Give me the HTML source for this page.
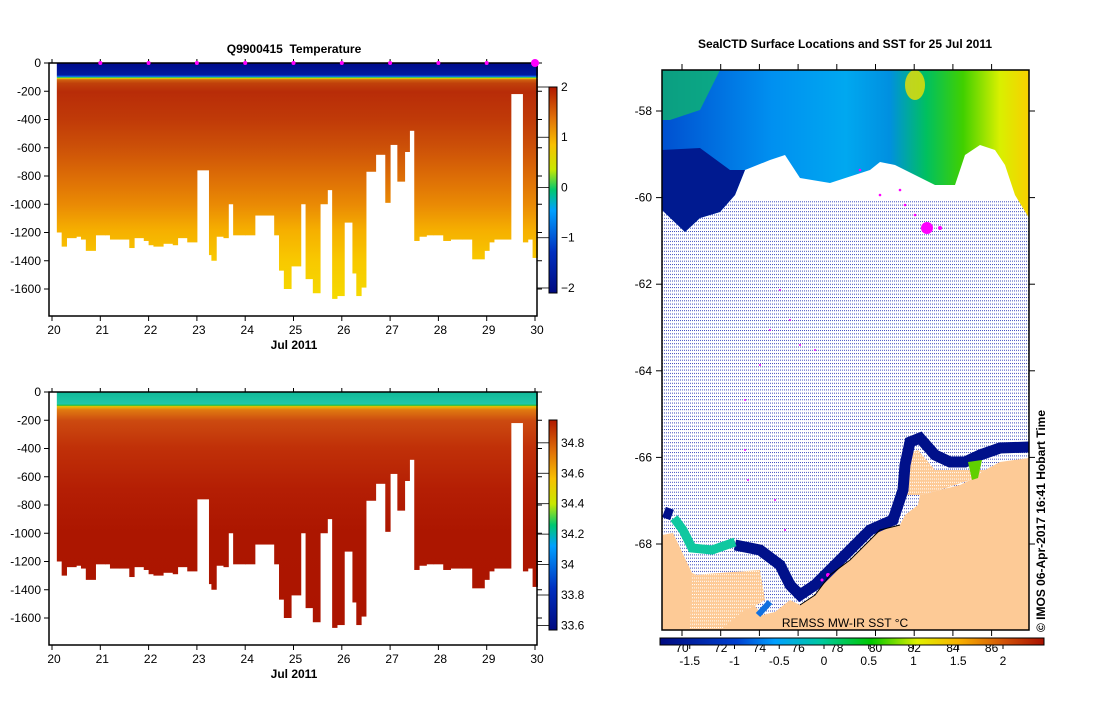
<!DOCTYPE html>
<html><head><meta charset="utf-8">
<style>
body{margin:0;background:#fff;width:1099px;height:700px;overflow:hidden;font-family:"Liberation Sans",sans-serif}
svg text{font-family:"Liberation Sans",sans-serif;font-size:12px;fill:#000}
</style></head>
<body>
<svg id="s" width="1099" height="700" xmlns="http://www.w3.org/2000/svg">
<defs>
<linearGradient id="tg" gradientUnits="userSpaceOnUse" x1="0" y1="63" x2="0" y2="303">
<stop offset="0" stop-color="#000a8a"/><stop offset="0.05" stop-color="#001aa0"/><stop offset="0.056" stop-color="#1060ff"/><stop offset="0.06" stop-color="#20d060"/><stop offset="0.064" stop-color="#e8d000"/><stop offset="0.07" stop-color="#d06010"/><stop offset="0.085" stop-color="#c0400a"/><stop offset="0.12" stop-color="#b82c08"/><stop offset="0.235" stop-color="#c03a08"/><stop offset="0.35" stop-color="#cc5008"/><stop offset="0.47" stop-color="#dc6c06"/><stop offset="0.59" stop-color="#ea8a04"/><stop offset="0.7" stop-color="#f6b000"/><stop offset="0.82" stop-color="#f8c800"/><stop offset="1" stop-color="#f5dc00"/>
</linearGradient>
<linearGradient id="sg" gradientUnits="userSpaceOnUse" x1="0" y1="392" x2="0" y2="631">
<stop offset="0" stop-color="#10b898"/><stop offset="0.05" stop-color="#20c8a8"/><stop offset="0.056" stop-color="#20c040"/><stop offset="0.06" stop-color="#e8c000"/><stop offset="0.075" stop-color="#e07a10"/><stop offset="0.12" stop-color="#cc4a10"/><stop offset="0.235" stop-color="#c03008"/><stop offset="0.41" stop-color="#b41e04"/><stop offset="0.59" stop-color="#ac1600"/><stop offset="1" stop-color="#ac1400"/>
</linearGradient>
<linearGradient id="tcb" x1="0" y1="1" x2="0" y2="0">
<stop offset="0" stop-color="#000a80"/><stop offset="0.2" stop-color="#0030c0"/><stop offset="0.4" stop-color="#00a0ff"/><stop offset="0.5" stop-color="#00c870"/><stop offset="0.6" stop-color="#c8e800"/><stop offset="0.72" stop-color="#f8c000"/><stop offset="0.85" stop-color="#e07008"/><stop offset="1" stop-color="#b01800"/>
</linearGradient>
<linearGradient id="hcb" x1="0" y1="0" x2="1" y2="0">
<stop offset="0" stop-color="#000a80"/><stop offset="0.2" stop-color="#0040d0"/><stop offset="0.3" stop-color="#00a0ff"/><stop offset="0.42" stop-color="#00c8a0"/><stop offset="0.55" stop-color="#00c800"/><stop offset="0.67" stop-color="#e0f000"/><stop offset="0.78" stop-color="#f8b000"/><stop offset="0.9" stop-color="#d05008"/><stop offset="1" stop-color="#a81000"/>
</linearGradient>
<linearGradient id="sst" x1="0" y1="0" x2="1" y2="0">
<stop offset="0" stop-color="#0050d0"/><stop offset="0.3" stop-color="#0090f0"/><stop offset="0.5" stop-color="#00a8f0"/><stop offset="0.62" stop-color="#0090e0"/><stop offset="0.72" stop-color="#00c060"/><stop offset="0.82" stop-color="#40d000"/><stop offset="0.92" stop-color="#d8f000"/><stop offset="1" stop-color="#f8d000"/>
</linearGradient>
<pattern id="dots" width="2" height="3.3" patternUnits="userSpaceOnUse"><rect width="1" height="1" fill="#2838b8"/></pattern>
<pattern id="wdots" width="2" height="3.3" patternUnits="userSpaceOnUse"><rect width="2" height="3.3" fill="#fdca96"/><rect width="1" height="1" fill="#fff"/></pattern>
</defs>
<g id="charts"></g>
<g id="map">
<rect x="662" y="70" width="367" height="560" fill="#fff"/>
<rect x="662" y="200" width="367" height="430" fill="url(#dots)" opacity="0.9"/>
<polygon fill="url(#sst)" points="662,70 1029,70 1029,218 1015,195 1005,165 995,150 980,145 965,155 955,185 935,185 895,165 880,162 870,170 830,183 800,178 785,155 770,160 745,170 735,195 720,212 700,218 685,232 662,210"/>
<polygon fill="#001a90" points="662,150 700,148 730,170 745,170 735,195 720,212 700,218 685,232 662,210"/>
<polygon fill="#10c060" opacity="0.7" points="662,70 720,70 700,110 670,120 662,120"/>
<ellipse cx="915" cy="85" rx="10" ry="15" fill="#f0e000" opacity="0.8"/>
<polygon fill="#fdca96" points="662,535 673,533 692,573 760,600 755,606 762,615 775,612 790,600 800,605 815,595 830,575 850,560 865,545 880,530 900,525 905,515 918,505 920,495 940,490 960,485 970,480 985,470 1000,462 1029,458 1029,630 662,630"/>
<polygon fill="url(#wdots)" points="692,575 760,570 765,600 755,606 745,610 720,630 690,630"/>
<polygon fill="url(#wdots)" points="905,455 918,450 935,470 960,470 985,470 970,480 940,490 920,495 905,495"/>
<polyline fill="none" stroke="#00108a" stroke-width="11" points="735,545 760,550 780,565 790,585 800,595 815,585 830,570 850,550 870,530 893,520 898,505 903,490 905,465 910,442 920,438 935,455 950,462 965,462 980,455 1000,448 1029,447"/>
<polyline fill="none" stroke="#00108a" stroke-width="11" points="664,512 672,515"/>
<polyline fill="none" stroke="#10c8a0" stroke-width="9" points="674,518 683,530 692,548 712,550 735,542"/>
<polygon fill="#60d000" points="968,462 982,460 978,478 972,480"/>
<polyline fill="none" stroke="#1070e0" stroke-width="6" points="758,615 770,602"/>
<g fill="#ff00ff">
<circle cx="927" cy="228" r="6"/><circle cx="940" cy="228" r="2"/><circle cx="900" cy="190" r="1.3"/><circle cx="905" cy="205" r="1.3"/><circle cx="915" cy="215" r="1.3"/><circle cx="860" cy="170" r="1.3"/><circle cx="880" cy="195" r="1.3"/>
<circle cx="780" cy="290" r="1"/><circle cx="790" cy="320" r="1"/><circle cx="770" cy="330" r="1"/><circle cx="800" cy="345" r="1"/><circle cx="815" cy="350" r="1"/><circle cx="760" cy="365" r="1"/><circle cx="745" cy="400" r="1"/><circle cx="745" cy="450" r="1"/><circle cx="748" cy="480" r="1"/><circle cx="775" cy="500" r="1"/><circle cx="785" cy="530" r="1"/><circle cx="828" cy="575" r="2"/><circle cx="822" cy="580" r="1.5"/>
</g>
<path d="M800,605 L815,595 830,575 850,560 865,545 880,530 900,525" fill="none" stroke="#000" stroke-width="1"/>
<rect x="662" y="70" width="367" height="560" fill="none" stroke="#000" stroke-width="1.5"/>
<text x="845" y="48" text-anchor="middle" font-weight="bold">SealCTD Surface Locations and SST for 25 Jul 2011</text>
<text x="845" y="627" text-anchor="middle">REMSS MW-IR SST °C</text>
<text transform="translate(1045,632) rotate(-90)" font-weight="bold" font-size="13">©  IMOS 06-Apr-2017 16:41 Hobart Time</text>
<g id="flabels"></g>
<rect x="660" y="638" width="384" height="7" fill="url(#hcb)" stroke="#000"/>
</g>
</svg>
<script>
const NS="http://www.w3.org/2000/svg";
const svg=document.getElementById('s');
const charts=document.getElementById('charts');
const map=document.getElementById('map');
const flabels=document.getElementById('flabels');
// data
const profileTimes=[20.1,20.2,20.3,20.5,20.6,20.7,20.9,21.1,21.2,21.4,21.6,21.7,21.9,22.0,22.1,22.3,22.5,22.6,22.8,23.0,23.25,23.3,23.4,23.55,23.65,23.75,24.0,24.2,24.6,24.7,24.8,24.95,25.15,25.25,25.4,25.55,25.7,25.8,25.9,26.05,26.22,26.3,26.4,26.5,26.7,26.9,27.0,27.15,27.3,27.4,27.5,27.6,27.75,27.9,28.1,28.25,28.5,28.7,28.95,29.05,29.15,29.5,29.75,29.85,29.95];
const profileDepths=[1200,1300,1240,1230,1250,1330,1220,1220,1250,1250,1310,1240,1260,1290,1300,1280,1290,1240,1270,760,1360,1400,1230,1240,1000,1220,1220,1080,1220,1470,1600,1440,1000,1530,1630,1000,900,1670,1650,1130,1490,1650,1590,770,650,990,580,840,630,480,1260,1230,1220,1220,1260,1250,1250,1390,1330,1270,1250,220,1270,1250,1380];
const endTime=30.05;
const surfaceTimes=[21,22,23,24,25,26,27,28,29,30];
const dayTicks=[20,21,22,23,24,25,26,27,28,29,30];
const depthTicks=[0,-200,-400,-600,-800,-1000,-1200,-1400,-1600];
const tempTicks=[2,1,0,-1,-2];
const salTicks=[34.8,34.6,34.4,34.2,34,33.8,33.6];
const latTicks=[-58,-60,-62,-64,-66,-68];
const sstTicks=[-1.5,-1,-0.5,0,0.5,1,1.5,2];
const sstFTicks=[70,72,74,76,78,80,82,84,86];

const xs=d=>52+(d-20)*48.3;
function el(tag,a,p){const e=document.createElementNS(NS,tag);for(const k in a)e.setAttribute(k,a[k]);(p||charts).appendChild(e);return e;}
function txt(x,y,s,anchor,p,extra){const t=el('text',Object.assign({x:x,y:y,'text-anchor':anchor||'middle'},extra||{}),p);t.textContent=s;return t;}

function panel(top,zeroY,grad,cbTop,cbBot,cbTicks,cbMin,cbMax,name,title){
  const ys=m=>zeroY+m*0.14125;
  const g=el('g',{});
  
  
  for(let i=0;i<profileTimes.length;i++){
    const t0=profileTimes[i],t1=i+1<profileTimes.length?profileTimes[i+1]:endTime;
    const r=el('rect',{x:xs(t0),y:ys(0),width:xs(t1)-xs(t0)+0.5,height:ys(profileDepths[i])-ys(0),fill:grad},g);
    
    
  }
  const bottom=top+253;
  const f=el('rect',{x:49,y:top,width:488,height:bottom-top,fill:'none',stroke:'#000','stroke-width':1.5},g);
  
  
  depthTicks.forEach(v=>{
    const y=ys(-v);
    el('line',{x1:49,x2:44,y1:y,y2:y,stroke:'#000'},g);
    el('line',{x1:537,x2:542,y1:y,y2:y,stroke:'#000'},g);
    const t=txt(41,y+4,String(v),'end',g);
    
    
  });
  dayTicks.forEach(d=>{
    el('line',{x1:xs(d),x2:xs(d),y1:bottom,y2:bottom+5,stroke:'#000'},g);
    el('line',{x1:xs(d),x2:xs(d),y1:top,y2:top-4,stroke:'#000'},g);
    const t=txt(xs(d)+2,bottom+18,String(d),'middle',g);
    
    
  });
  const xl=txt(294,bottom+33,'Jul 2011','middle',g,{'font-weight':'bold'});
  
  
  if(title){
    const tt=txt(294,top-10,title,'middle',g,{'font-weight':'bold'});
    
    
    surfaceTimes.forEach(d=>{
      const c=el('circle',{cx:xs(d),cy:top,r:d===30?4:2,fill:'#ff00ff'},g);
      
      
    });
  }
  const cb=el('rect',{x:549,y:cbTop,width:8,height:cbBot-cbTop,fill:'url(#tcb)',stroke:'#000'},g);
  
  
  cbTicks.forEach(v=>{
    const y=cbBot-(v-cbMin)/(cbMax-cbMin)*(cbBot-cbTop);
    el('line',{x1:537,x2:549,y1:y,y2:y,stroke:'#000','stroke-width':0.8},g);
    const t=txt(561,y+4,String(v).replace('-','−'),'start',g);
    
    
  });
}
panel(63,63,'url(#tg)',87,293,tempTicks,-2.1,2.0,'temperature-chart','Q9900415\u00a0\u00a0Temperature');
panel(392,392,'url(#sg)',420,630,salTicks,33.57,34.95,'salinity-chart',null);

// map axes
const latY=l=>111+(-58-l)*43.3;
latTicks.forEach(l=>{
  const y=latY(l);
  el('line',{x1:662,x2:656,y1:y,y2:y,stroke:'#000'},map);
  el('line',{x1:1029,x2:1035,y1:y,y2:y,stroke:'#000'},map);
  const t=txt(652,y+4,String(l),'end',map);
  
  
});
for(let i=0;i<9;i++){const x=682+i*38.7;el('line',{x1:x,x2:x,y1:70,y2:64,stroke:'#000'},map);el('line',{x1:x,x2:x,y1:630,y2:636,stroke:'#000'},map);}
const sx=v=>824+v*89.5;
sstTicks.forEach(v=>{
  el('line',{x1:sx(v),x2:sx(v),y1:645,y2:649,stroke:'#000'},map);
  const t=txt(sx(v),665,String(v),'middle',map);
  
  
});
const fx=f=>682+(f-70)/2*38.7;
sstFTicks.forEach(f=>{
  const t=txt(fx(f),652,String(f),'middle',flabels,{'font-size':'11'});
  
  
});
</script>
</body></html>
